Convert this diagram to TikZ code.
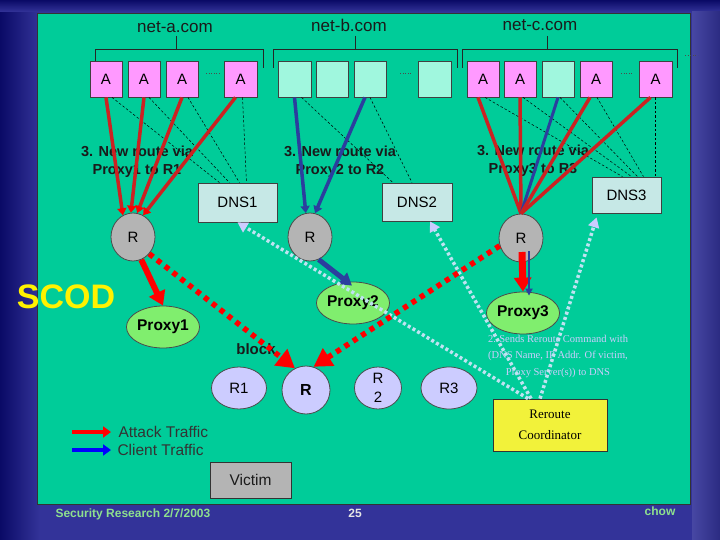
\documentclass[tikz,border=0pt]{standalone}
\usepackage{fontspec}
\setmainfont{Liberation Sans}
\newfontfamily\serifA{Liberation Serif}
\usetikzlibrary{arrows.meta,shapes.geometric,calc}
\definecolor{bgblue}{HTML}{333399}
\definecolor{navy}{HTML}{0A0A66}
\definecolor{panel}{HTML}{00CC99}
\definecolor{pinkA}{HTML}{FF99FF}
\definecolor{cyanbox}{HTML}{A0F7DE}
\definecolor{dnscol}{HTML}{C6E8E6}
\definecolor{routergray}{HTML}{B4B4B4}
\definecolor{proxygreen}{HTML}{80EE6E}
\definecolor{lav}{HTML}{CCCCFF}
\definecolor{darkred}{HTML}{CC2222}
\definecolor{darkblue}{HTML}{2B3E9E}
\definecolor{dotblue}{HTML}{BFE3F2}
\definecolor{footgreen}{HTML}{8EE08E}
\definecolor{yellowbox}{HTML}{F2F23A}
\definecolor{txtdark}{HTML}{1A1A1A}
\definecolor{legtxt}{HTML}{333333}
\begin{document}
\begin{tikzpicture}[x=1pt,y=-1pt,
  abox/.style={draw=black!75, line width=0.8pt, fill=pinkA, minimum width=32pt, minimum height=36pt, inner sep=0pt, font=\fontsize{15}{15}\selectfont},
  cbox/.style={abox, fill=cyanbox},
  dnsbox/.style={draw=black!75, line width=0.8pt, fill=dnscol, inner sep=0pt, font=\fontsize{15}{15}\selectfont},
  router/.style={ellipse, draw=black!70, line width=0.8pt, fill=routergray, minimum width=44pt, minimum height=48pt, inner sep=0pt, font=\fontsize{15}{15}\selectfont},
  proxy/.style={ellipse, draw=black!70, line width=0.8pt, fill=proxygreen, minimum width=71pt, minimum height=42pt, inner sep=0pt, font=\bfseries\fontsize{15.5}{15.5}\selectfont},
  lavnode/.style={ellipse, draw=black!70, line width=0.8pt, fill=lav, minimum height=42pt, inner sep=0pt, font=\fontsize{15}{15}\selectfont},
  netlabel/.style={font=\fontsize{17}{17}\selectfont, text=txtdark},
  routetxt/.style={font=\bfseries\fontsize{14.5}{18.5}\selectfont, text=txtdark, align=center},
  bracket/.style={draw=black!85, line width=0.8pt},
  sepdots/.style={draw=black!70, dotted, line width=0.6pt},
  dnsdash/.style={draw=black, line width=0.5pt, dash pattern=on 2.5pt off 2pt},
  redline/.style={draw=darkred, line width=3.5pt, -{Triangle[length=7pt,width=9pt,color=red]}},
  redplain/.style={draw=darkred, line width=3.5pt},
  blueline/.style={draw=darkblue, line width=3.5pt, -{Triangle[length=7pt,width=9pt,color=darkblue]}},
  blueplain/.style={draw=darkblue, line width=3pt},
  bigred/.style={draw=red, line width=6pt, -{Triangle[length=14pt,width=17pt]}},
  bigblue/.style={draw=darkblue, line width=5pt, -{Triangle[length=12pt,width=14pt]}},
  reddot/.style={draw=red, line width=5.5pt, dash pattern=on 5pt off 5pt, -{Triangle[length=18pt,width=20pt]}},
  lightdot/.style={draw=dotblue, line width=3.5pt, dash pattern=on 3pt off 2.5pt, -{Triangle[length=10pt,width=11pt,color=lav]}},
  legarrow/.style={line width=4pt, -{Triangle[length=8pt,width=11pt]}},
  legtext/.style={font=\fontsize{15.5}{15.5}\selectfont, text=legtxt, anchor=west}
]
\path[use as bounding box] (0,0) rectangle (720,540);
% background
\fill[bgblue] (0,0) rectangle (720,540);
\shade[left color=navy, right color=bgblue] (0,0) rectangle (40,540);
\shade[top color=navy, bottom color=bgblue] (0,0) rectangle (720,12);
\shade[left color=bgblue!90!white, right color=bgblue!85!black] (692,12) rectangle (720,540);
% panel
\draw[fill=panel, draw=black!80, line width=0.8pt] (37,13) rectangle (690,504);

% network labels and brackets
\node[netlabel] (na) at (175,27) {net-a.com};
\node[netlabel] (nb) at (349,25) {net-b.com};
\node[netlabel] (nc) at (540,25) {net-c.com};
\draw[bracket] (95,68) -- (95,49) -- (263,49) -- (263,68);
\draw[bracket] (176,36) -- (176,49);
\draw[bracket] (273,68) -- (273,49) -- (457,49) -- (457,68);
\draw[bracket] (355,36) -- (355,49);
\draw[bracket] (462,68) -- (462,49) -- (677,49) -- (677,68);
\draw[bracket] (547,36) -- (547,49);
\draw[sepdots] (206,73) -- (221,73);
\draw[sepdots] (400,73) -- (412,73);
\draw[sepdots] (621,73) -- (633,73);
\draw[sepdots] (685,55) -- (698,55);

% host boxes
\node[abox] (a1) at (106,79) {A};
\node[abox] (a2) at (144,79) {A};
\node[abox] (a3) at (182,79) {A};
\node[abox, minimum width=33pt] (a4) at (240.5,79) {A};
\node[cbox, minimum width=33pt] (b1) at (294.5,79) {};
\node[cbox] (b2) at (332.5,79) {};
\node[cbox] (b3) at (370,79) {};
\node[cbox, minimum width=33pt] (b4) at (434.5,79) {};
\node[abox] (c1) at (483,79) {A};
\node[abox] (c2) at (520,79) {A};
\node[cbox] (c3) at (558,79) {};
\node[abox] (c4) at (596,79) {A};
\node[abox, minimum width=33pt] (c5) at (655.5,79) {A};

% DNS boxes
\node[dnsbox, minimum width=79pt, minimum height=39pt] (d1) at (237.5,202.5) {DNS1};
\node[dnsbox, minimum width=70pt, minimum height=38pt] (d2) at (417,202) {DNS2};
\node[dnsbox, minimum width=69pt, minimum height=36pt] (d3) at (626.5,195) {DNS3};

% route texts
\node[routetxt] (t1) at (137,162) {3. New route via\\Proxy1 to R1};
\node[routetxt] (t2) at (340,162) {3. New route via\\Proxy2 to R2};
\node[routetxt] (t3) at (533,161) {3. New route via\\Proxy3 to R3};

% routers
\node[router] (r1) at (133,237) {R};
\node[router] (r2) at (310,237) {R};
\node[router] (r3) at (521,238) {R};

% proxies
\node[proxy] (p1) at (163,327) {Proxy1};
\node[proxy, minimum width=70pt] (p2) at (353,303) {Proxy2};
\node[proxy] (p3) at (523,313) {Proxy3};

% bottom routers
\node[lavnode, minimum width=55pt] (br1) at (239,388) {R1};
\node[circle, draw=black!70, line width=0.8pt, fill=lav, minimum size=48pt, inner sep=0pt, font=\bfseries\fontsize{16}{16}\selectfont] (br) at (306,390) {R};
\node[lavnode, minimum width=47pt, align=center, font=\fontsize{15}{19}\selectfont] (br2) at (378,388) {R\\2};
\node[lavnode, minimum width=56pt] (br3) at (449,388) {R3};

% coordinator, victim
\node[draw=black!80, line width=0.8pt, fill=yellowbox, minimum width=114pt, minimum height=52pt, inner sep=0pt, align=center, font=\serifA\fontsize{13}{21}\selectfont] (co) at (550,425) {Reroute\\Coordinator};
\node[draw=black!80, line width=0.8pt, fill=routergray, minimum width=81pt, minimum height=36pt, inner sep=0pt, font=\fontsize{15.5}{15.5}\selectfont, text=txtdark] (vi) at (250.5,480) {Victim};

% texts
\node[font=\serifA\fontsize{10.5}{16.5}\selectfont, text=lav, align=center] (sends) at (558,356) {2. Sends Reroute Command with\\(DNS Name, IP Addr. Of victim,\\Proxy Server(s)) to DNS};
\node[font=\bfseries\fontsize{15}{15}\selectfont, text=txtdark] (blk) at (256,349) {block};
\node[font=\bfseries\fontsize{34}{34}\selectfont, text=yellow] (scod) at (66,297) {SCOD};

% dashed lines to DNS
\draw[dnsdash] ($(a1.south)+(6,0)$) -- ($(d1.north)+(-18,0)$);
\draw[dnsdash] ($(a2.south)+(5,0)$) -- ($(d1.north)+(-8,0)$);
\draw[dnsdash] ($(a3.south)+(6,0)$) -- ($(d1.north)+(2,0)$);
\draw[dnsdash] ($(a4.south)+(2,0)$) -- ($(d1.north)+(9,0)$);
\draw[dnsdash] ($(b1.south)+(7,0)$) -- ($(d2.north)+(-24,0)$);
\draw[dnsdash] (b3.south) -- ($(d2.north)+(-5,0)$);
\draw[dnsdash] ($(c1.south)+(2,0)$) -- ($(d3.north)+(-4,0)$);
\draw[dnsdash] ($(c2.south)+(3,0)$) -- ($(d3.north)+(5,0)$);
\draw[dnsdash] ($(c3.south)+(2,0)$) -- ($(d3.north)+(11,0)$);
\draw[dnsdash] ($(c4.south)+(1,0)$) -- ($(d3.north)+(17,0)$);
\draw[dnsdash] (c5.south) -- ($(d3.north)+(29,0)$);

% attack / client lines to routers
\draw[redline] (a1.south) -- (r1.115);
\draw[redline] (a2.south) -- (r1.95);
\draw[redline] (a3.south) -- (r1.80);
\draw[redline] ($(a4.south)+(-5,0)$) -- (r1.65);
\draw[blueline] (b1.south) -- (r2.100);
\draw[blueline] ($(b3.south)+(-5,0)$) -- (r2.78);
\draw[redplain] ($(c1.south)+(-5,0)$) -- (r3.north);
\draw[redplain] (c2.south) -- (r3.north);
\draw[blueplain] (c3.south) -- (r3.north);
\draw[redplain] ($(c4.south)+(-6,0)$) -- (r3.north);
\draw[redplain] ($(c5.south)+(-5,0)$) -- (r3.north);

% routers to proxies
\draw[bigred] (r1.-70) -- (p1.north);
\draw[bigblue] (r2.-69) -- ($(p2.north)+(-1,4)$);
\draw[bigred, line width=7pt] ($(r3.center)+(1,14)$) -- (p3.north);
\draw[draw=darkblue, line width=2.5pt, -{Triangle[length=7pt,width=7pt]}] ($(r3.center)+(8,13)$) -- ($(p3.north)+(6,4)$);

% reroute commands to DNS
\draw[lightdot] ($(co.north)+(-22,0)$) -- (d1.south);
\draw[lightdot] ($(co.north)+(-19,0)$) -- ($(d2.south)+(13,0)$);
\draw[lightdot] ($(co.north)+(-10,0)$) -- ($(d3.south west)+(5,4)$);

% blocked attack traffic
\draw[reddot] (r1.-46) -- (br.117);
\draw[reddot] (r3.-160) -- (br.72);

% legend
\coordinate (lra) at (72,432);
\coordinate (lrb) at (111,432);
\coordinate (lba) at (72,450);
\coordinate (lbb) at (111,450);
\draw[legarrow, red] (lra) -- (lrb);
\draw[legarrow, blue] (lba) -- (lbb);
\node[legtext] (lt1) at (115,432) {Attack Traffic};
\node[legtext] (lt2) at (114,450) {Client Traffic};

% footer
\node[font=\bfseries\fontsize{12}{12}\selectfont, text=footgreen, anchor=west] (ft1) at (52,514) {Security Research 2/7/2003};
\node[font=\bfseries\fontsize{12}{12}\selectfont, text=white!90!black] (ft2) at (355,513) {25};
\node[font=\bfseries\fontsize{12}{12}\selectfont, text=footgreen] (ft3) at (660,511) {chow};
\end{tikzpicture}
\end{document}
